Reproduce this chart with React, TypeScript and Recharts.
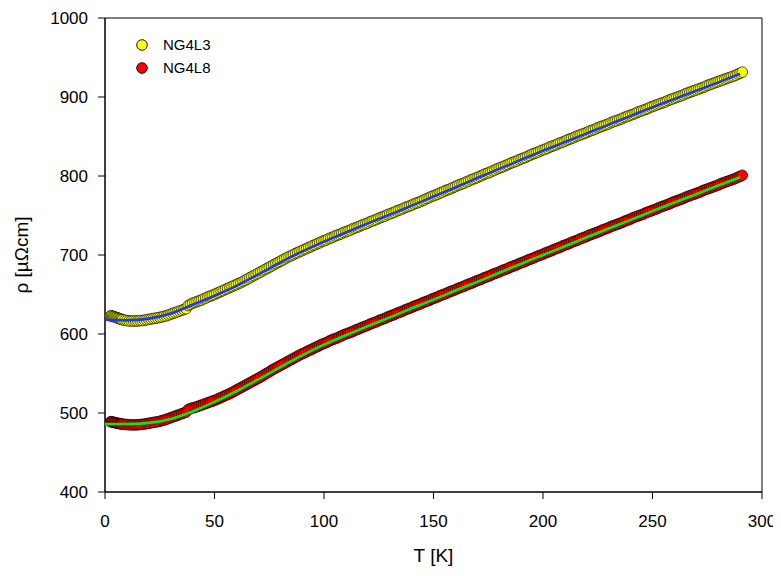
import React from "react";
import {
  ComposedChart,
  XAxis,
  YAxis,
  Scatter,
  Line,
  Legend,
  ReferenceArea,
} from "recharts";

// Temperatures of the measured points [K]
const T_MEAS = [
  2.5, 3, 3.5, 4, 4.5, 5, 5.5, 6, 6.5, 7, 7.5, 8,
  9, 10, 11, 12, 13, 14, 15, 16, 17, 18, 19, 20, 21, 22, 23, 24, 25, 26, 27, 28, 29,
  30, 31, 32, 33, 34, 35, 36, 37, 38, 39,
  40, 41, 42, 43, 44, 45, 46, 47, 48, 49,
  50, 51, 52, 53, 54, 55, 56, 57, 58, 59,
  60, 61, 62, 63, 64, 65, 66, 67, 68, 69,
  70, 71, 72, 73, 74, 75, 76, 77, 78, 79,
  80, 81, 82, 83, 84, 85, 86, 87, 88, 89,
  90, 91, 92, 93, 94, 95, 96, 97, 98, 99,
  100, 101, 102, 103, 104, 105, 106, 107, 108, 109,
  110, 111, 112, 113, 114, 115, 116, 117, 118, 119,
  120, 121, 122, 123, 124, 125, 126, 127, 128, 129,
  130, 131, 132, 133, 134, 135, 136, 137, 138, 139,
  140, 141, 142, 143, 144, 145, 146, 147, 148, 149,
  150, 151, 152, 153, 154, 155, 156, 157, 158, 159,
  160, 161, 162, 163, 164, 165, 166, 167, 168, 169,
  170, 171, 172, 173, 174, 175, 176, 177, 178, 179,
  180, 181, 182, 183, 184, 185, 186, 187, 188, 189,
  190, 191, 192, 193, 194, 195, 196, 197, 198, 199,
  200, 201, 202, 203, 204, 205, 206, 207, 208, 209,
  210, 211, 212, 213, 214, 215, 216, 217, 218, 219,
  220, 221, 222, 223, 224, 225, 226, 227, 228, 229,
  230, 231, 232, 233, 234, 235, 236, 237, 238, 239,
  240, 241, 242, 243, 244, 245, 246, 247, 248, 249,
  250, 251, 252, 253, 254, 255, 256, 257, 258, 259,
  260, 261, 262, 263, 264, 265, 266, 267, 268, 269,
  270, 271, 272, 273, 274, 275, 276, 277, 278, 279,
  280, 281, 282, 283, 284, 285, 286, 287, 288, 289,
  290, 291,
];

// NG4L3 resistivity [µΩcm]
const RHO_NG4L3 = [
  623, 623, 622.5, 622, 621.5, 621, 620.5, 620, 619.5, 619, 618.5, 618,
  617.5, 617, 616.5, 616.5, 616.5, 616.5, 616.5, 617, 617, 617.5, 618, 618.5, 619,
  619.5, 620, 620.5, 621, 621.5, 622.5, 623, 624,
  625, 626, 627, 628, 629, 630, 631, 632, 636, 637.5,
  639, 640, 641, 642, 643, 644.5, 645.5, 647, 648, 649,
  650, 651.5, 652.5, 654, 655, 656.5, 657.5, 659, 660, 661.5,
  662.5, 664, 665, 666.5, 668, 669.5, 671, 672.5, 674, 675.5,
  677, 678.5, 680, 681.5, 683, 684.5, 686, 687.5, 689, 690.5,
  692, 693.5, 695, 696.5, 698, 699, 700.5, 702, 703, 704.5,
  705.5, 707, 708, 709.5, 710.5, 712, 713, 714.5, 715.5, 717,
  718, 719, 720.5, 721.5, 722.5, 724, 725, 726, 727, 728.5,
  729.5, 730.5, 731.5, 733, 734, 735, 736, 737.5, 738.5, 739.5,
  740.5, 742, 743, 744, 745, 746.5, 747.5, 748.5, 749.5, 751,
  752, 753, 754, 755.5, 756.5, 757.5, 758.5, 760, 761, 762,
  763, 764.5, 765.5, 766.5, 767.5, 769, 770, 771.5, 772.5, 774,
  775, 776, 777, 778.5, 779.5, 781, 782, 783, 784, 785.5,
  786.5, 788, 789, 790, 791, 792.5, 793.5, 795, 796, 797,
  798, 799.5, 800.5, 802, 803, 804, 805, 806.5, 807.5, 809,
  810, 811, 812, 813.5, 814.5, 816, 817, 818, 819, 820.5,
  821.5, 822.5, 823.5, 825, 826, 827.5, 828.5, 829.5, 830.5, 832,
  833, 834, 835, 836.5, 837.5, 838.5, 839.5, 841, 842, 843,
  844, 845.5, 846.5, 847.5, 848.5, 850, 851, 852, 853, 854,
  855, 856.5, 857.5, 858.5, 859.5, 861, 862, 863, 864, 865,
  866, 867.5, 868.5, 869.5, 870.5, 871.5, 872.5, 874, 875, 876,
  877, 878, 879, 880.5, 881.5, 882.5, 883.5, 884.5, 885.5, 887,
  888, 889, 890, 891, 892, 893, 894, 895.5, 896.5, 897.5,
  898.5, 899.5, 900.5, 901.5, 902.5, 904, 905, 906, 907, 908,
  909, 910, 911, 912, 913, 914.5, 915.5, 916.5, 917.5, 918.5,
  919.5, 920.5, 921.5, 922.5, 923.5, 924.5, 925.5, 926.5, 927.5, 929,
  930, 931.5,
];

// NG4L8 resistivity [µΩcm]
const RHO_NG4L8 = [
  489, 489, 488.5, 488, 488, 487.5, 487, 487, 486.5, 486.5, 486, 486,
  485.5, 485.5, 485, 485, 485, 485, 485, 485.5, 485.5, 486, 486.5, 487, 487.5,
  488, 488.5, 489, 489.5, 490.5, 491, 492, 493,
  494, 495, 496, 497, 498, 499, 500, 501, 504.5, 505.5,
  506.5, 507, 508, 509, 510, 511, 512, 513, 514, 515,
  516, 517, 518.5, 519.5, 521, 522, 523.5, 524.5, 526, 527.5,
  529, 530.5, 532, 533.5, 535, 536.5, 538, 539.5, 541, 542.5,
  544, 545.5, 547, 549, 550.5, 552, 554, 555.5, 557, 558.5,
  560, 561.5, 563, 564.5, 566, 567.5, 569, 570.5, 572, 573.5,
  575, 576, 577.5, 579, 580, 581.5, 583, 584, 585.5, 587,
  588, 589, 590.5, 592, 593, 594, 595, 596.5, 597.5, 599,
  600, 601, 602, 603, 604.5, 605.5, 606.5, 608, 609, 610,
  611, 612.5, 613.5, 614.5, 615.5, 617, 618, 619, 620, 621.5,
  622.5, 623.5, 624.5, 626, 627, 628, 629, 630.5, 631.5, 632.5,
  633.5, 635, 636, 637, 638, 639.5, 640.5, 641.5, 642.5, 644,
  645, 646, 647, 648.5, 649.5, 650.5, 651.5, 653, 654, 655,
  656, 657.5, 658.5, 659.5, 660.5, 662, 663, 664, 665, 666.5,
  667.5, 668.5, 669.5, 671, 672, 673, 674, 675.5, 676.5, 677.5,
  678.5, 680, 681, 682, 683, 684.5, 685.5, 686.5, 687.5, 689,
  690, 691, 692, 693.5, 694.5, 695.5, 696.5, 698, 699, 700,
  701, 702.5, 703.5, 704.5, 705.5, 707, 708, 709, 710, 711.5,
  712.5, 713.5, 714.5, 716, 717, 718, 719, 720.5, 721.5, 722.5,
  723.5, 725, 726, 727, 728, 729, 730, 731.5, 732.5, 733.5,
  734.5, 736, 737, 738, 739, 740, 741, 742.5, 743.5, 744.5,
  745.5, 747, 748, 749, 750, 751, 752, 753.5, 754.5, 755.5,
  756.5, 757.5, 758.5, 760, 761, 762, 763, 764, 765, 766.5,
  767.5, 768.5, 769.5, 770.5, 771.5, 773, 774, 775, 776, 777,
  778, 779, 780, 781.5, 782.5, 783.5, 784.5, 785.5, 786.5, 787.5,
  788.5, 790, 791, 792, 793, 794, 795, 796, 797, 798.5,
  799.5, 801,
];

// Fit curves
const T_FIT = [
  0, 10, 20, 30, 40, 50, 60, 70, 80, 90, 100, 110, 120, 130, 140, 150, 160, 170,
  180, 190, 200, 210, 220, 230, 240, 250, 260, 270, 280, 290,
];
const FIT_NG4L3 = [
  618, 617.5, 619.5, 626, 637, 648.5, 661, 675.5, 690.5, 704.5, 717, 728.5, 740,
  751, 762.5, 774, 785.5, 797.5, 809, 820.5, 832, 843, 854, 865, 876, 887, 897.5,
  908, 918.5, 929.5,
];
const FIT_NG4L8 = [
  486, 486, 487.5, 492.5, 502, 514, 527.5, 542.5, 558, 573, 586.5, 598.5, 610,
  621, 632.5, 643.5, 655, 666, 677.5, 689, 700, 711, 722.5, 733.5, 744.5, 755.5,
  766.5, 777, 788, 798.5,
];

const X_TICKS = [0, 50, 100, 150, 200, 250, 300];
const Y_TICKS = [400, 500, 600, 700, 800, 900, 1000];

const SERIES_NAMES = ["NG4L3", "NG4L8"];
const MARKER_COLORS = ["#ffff00", "#ff0000"];
const FIT_COLORS = ["#1638ff", "#00f000"];

const dataL3 = T_MEAS.map((t, i) => ({ T: t, rho: RHO_NG4L3[i] }));
const dataL8 = T_MEAS.map((t, i) => ({ T: t, rho: RHO_NG4L8[i] }));
const fitL3 = T_FIT.map((t, i) => ({ T: t, rho: FIT_NG4L3[i] }));
const fitL8 = T_FIT.map((t, i) => ({ T: t, rho: FIT_NG4L8[i] }));

const FONT = "Arial, 'Liberation Sans', sans-serif";

const makeDot = (fill: string) => (props: any) => {
  const { cx, cy } = props;
  if (cx == null || cy == null) return <g />;
  return (
    <circle cx={cx} cy={cy} r={5.3} fill={fill} stroke="#000" strokeWidth={0.65} />
  );
};

const LegendBox = () => (
  <svg width={120} height={50} style={{ overflow: "visible" }}>
    {SERIES_NAMES.map((name, i) => (
      <g key={name}>
        <circle
          cx={14}
          cy={10 + i * 23}
          r={5.3}
          fill={MARKER_COLORS[i]}
          stroke="#000"
          strokeWidth={0.9}
        />
        <text x={35} y={15 + i * 23} fontSize={15} fontFamily={FONT} fill="#000">
          {name}
        </text>
      </g>
    ))}
  </svg>
);

export default function App() {
  return (
    <div style={{ width: 773, height: 560 }}>
      <ComposedChart
        width={773}
        height={560}
        margin={{ top: 10, right: 19, bottom: 4, left: 0 }}
      >
        <XAxis
          type="number"
          dataKey="T"
          domain={[0, 300]}
          ticks={X_TICKS}
          allowDataOverflow
          height={72}
          stroke="#000"
          tickSize={7}
          tickMargin={16}
          tick={{ fill: "#000", fontSize: 17, fontFamily: FONT }}
          label={{
            value: "T [K]",
            position: "insideBottom",
            offset: 2,
            style: { fill: "#000", fontSize: 19, fontFamily: FONT },
          }}
        />
        <YAxis
          type="number"
          dataKey="rho"
          domain={[400, 1000]}
          ticks={Y_TICKS}
          allowDataOverflow
          width={97}
          stroke="#000"
          tickSize={7}
          tickMargin={10}
          tick={{ fill: "#000", fontSize: 17, fontFamily: FONT }}
          label={{
            value: "ρ [µΩcm]",
            angle: -90,
            position: "insideLeft",
            offset: 13,
            style: {
              fill: "#000",
              fontSize: 19,
              fontFamily: FONT,
              textAnchor: "middle",
            },
          }}
        />
        <ReferenceArea
          x1={0}
          x2={300}
          y1={400}
          y2={1000}
          fill="none"
          fillOpacity={0}
          stroke="#000"
          strokeWidth={1}
          ifOverflow="visible"
        />
        <Scatter
          name={SERIES_NAMES[0]}
          data={dataL3}
          dataKey="rho"
          fill={MARKER_COLORS[0]}
          shape={makeDot(MARKER_COLORS[0])}
          isAnimationActive={false}
        />
        <Scatter
          name={SERIES_NAMES[1]}
          data={dataL8}
          dataKey="rho"
          fill={MARKER_COLORS[1]}
          shape={makeDot(MARKER_COLORS[1])}
          isAnimationActive={false}
        />
        <Line
          data={fitL3}
          dataKey="rho"
          type="monotone"
          stroke={FIT_COLORS[0]}
          strokeWidth={2.6}
          dot={false}
          activeDot={false}
          isAnimationActive={false}
          legendType="none"
          zIndex={700}
        />
        <Line
          data={fitL8}
          dataKey="rho"
          type="monotone"
          stroke={FIT_COLORS[1]}
          strokeWidth={2.6}
          dot={false}
          activeDot={false}
          isAnimationActive={false}
          legendType="none"
          zIndex={700}
        />
        <Legend
          layout="vertical"
          align="center"
          verticalAlign="middle"
          content={() => <LegendBox />}
          wrapperStyle={{ position: "absolute", left: 120, top: 27, width: 120, height: 50 }}
        />
      </ComposedChart>
    </div>
  );
}
